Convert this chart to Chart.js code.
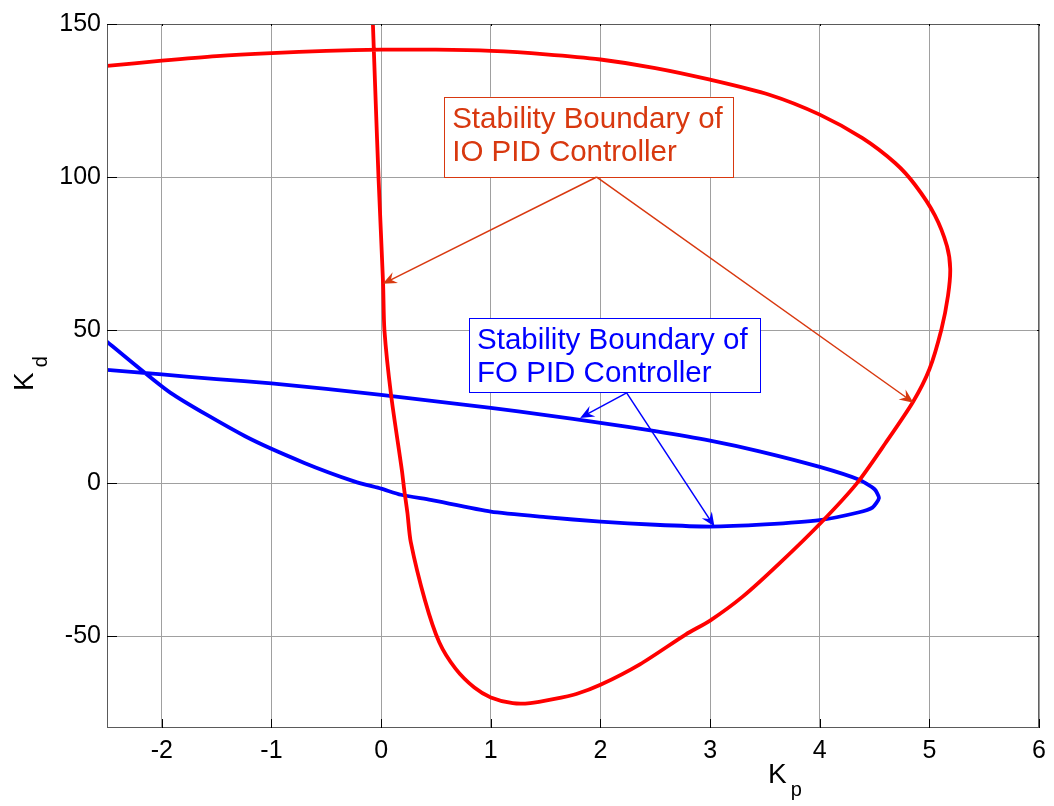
<!DOCTYPE html>
<html>
<head>
<meta charset="utf-8">
<script src="https://cdn.jsdelivr.net/npm/chart.js@4.4.0/dist/chart.umd.min.js"></script>
<style>
  html, body { margin: 0; padding: 0; background: #fff; }
  #wrap { width: 1054px; height: 806px; }
</style>
</head>
<body>
<div id="wrap"><canvas id="chart" width="1054" height="806"></canvas></div>
<script>
const FONT = '"Liberation Sans", Arial, sans-serif';

const xTicks = [-2, -1, 0, 1, 2, 3, 4, 5, 6];
const yTicks = [-50, 0, 50, 100, 150];

// IO PID stability boundary (red), in drawing order
const ioKp = [-2.5, -2, -1.5, -1, -0.5, 0, 0.5, 1, 1.5, 2, 2.5, 3, 3.54, 4, 4.39, 4.69, 4.87, 5.05, 5.16, 5.19,
  5.17, 5.11, 5.0, 4.85, 4.6, 4.34, 4.02, 3.63, 3.3, 3.0, 2.78, 2.36, 2.0, 1.78, 1.57, 1.36, 1.2, 1.0, 0.85, 0.68,
  0.53, 0.40, 0.27, 0.24, 0.21, 0.19, 0.09, 0.03, 0.018, -0.024, -0.05, -0.075];
const ioKd = [136.3, 138, 139.5, 140.5, 141.2, 141.6, 141.6, 141.2, 140.1, 138.4, 135.6, 131.8, 126.9, 120.4, 112.7, 104.5, 97.4, 87.5, 77.5, 70,
  61.3, 50.3, 37.2, 26.5, 13.1, 0, -12.6, -26.3, -37, -44.9, -49.4, -59.2, -65.9, -68.9, -70.6, -71.9, -71.9, -70, -66.8, -60.7,
  -52, -38.3, -19.2, -9.8, -2, 4, 29, 50, 65, 100, 125, 150];

// FO PID stability boundary (blue), in drawing order
const foKp = [-2.5, -2, -1.5, -1, -0.5, 0, 0.5, 1, 1.5, 2, 2.5, 3, 3.45, 4, 4.36, 4.5, 4.54, 4.48, 4.35, 4.0,
  3.5, 3.0, 2.5, 2, 1.5, 1, 0.45, 0.18, 0, -0.24, -0.7, -1.24, -1.92, -2.5];
const foKd = [37, 35.5, 34, 32.6, 30.8, 28.8, 26.7, 24.6, 22.2, 19.7, 17, 13.9, 10.4, 5.3, 1.1, -2, -4.9, -8, -9.6, -12.1,
  -13.5, -14.2, -13.6, -12.6, -11.1, -9.3, -5.5, -3.8, -1.8, 0.5, 6.6, 15.3, 29.5, 46.2];

const toPoints = (xs, ys) => xs.map((v, i) => ({ x: v, y: ys[i] }));

// text boxes with arrows, in data units
const notes = [
  { lines: ['Stability Boundary of', 'IO PID Controller'], color: '#d8380f',
    box: [0.575, 126.2, 3.207, 100], from: [1.966, 100], to: [[0.015, 65.1], [4.855, 26.3]] },
  { lines: ['Stability Boundary of', 'FO PID Controller'], color: '#0000ff',
    box: [0.802, 53.8, 3.455, 29.5], from: [2.239, 29.5], to: [[1.815, 21.3], [3.04, -14.2]] }
];

function arrow(ctx, x0, y0, x1, y1) {
  const ang = Math.atan2(y1 - y0, x1 - x0);
  const L = 14, W = 6;
  ctx.beginPath();
  ctx.moveTo(x0, y0);
  ctx.lineTo(x1 - Math.cos(ang) * L * 0.6, y1 - Math.sin(ang) * L * 0.6);
  ctx.stroke();
  ctx.save();
  ctx.translate(x1, y1);
  ctx.rotate(ang);
  ctx.beginPath();
  ctx.moveTo(0, 0);
  ctx.lineTo(-L, W);
  ctx.lineTo(-L * 0.65, 0);
  ctx.lineTo(-L, -W);
  ctx.closePath();
  ctx.fill();
  ctx.restore();
}

const decor = {
  id: 'decor',
  afterDatasetsDraw(chart) {
    const { ctx, chartArea: a, scales: { x, y } } = chart;
    ctx.save();

    // axes box
    ctx.strokeStyle = '#5a5a5a';
    ctx.lineWidth = 1;
    ctx.strokeRect(a.left + 0.5, a.top + 0.5, a.right - a.left - 1, a.bottom - a.top - 1);

    // inward tick marks
    ctx.strokeStyle = '#000';
    ctx.beginPath();
    xTicks.forEach(v => {
      const px = Math.round(x.getPixelForValue(v)) + 0.5;
      ctx.moveTo(px, a.bottom); ctx.lineTo(px, a.bottom - 9);
      ctx.moveTo(px, a.top); ctx.lineTo(px, a.top + 2);
    });
    yTicks.forEach(v => {
      const py = Math.round(y.getPixelForValue(v)) + 0.5;
      ctx.moveTo(a.left, py); ctx.lineTo(a.left + 10, py);
      ctx.moveTo(a.right, py); ctx.lineTo(a.right - 2, py);
    });
    ctx.stroke();

    // annotations
    notes.forEach(n => {
      const l = x.getPixelForValue(n.box[0]), t = y.getPixelForValue(n.box[1]);
      const r = x.getPixelForValue(n.box[2]), b = y.getPixelForValue(n.box[3]);
      ctx.fillStyle = '#fff';
      ctx.fillRect(l, t, r - l, b - t);
      ctx.strokeStyle = n.color;
      ctx.fillStyle = n.color;
      ctx.lineWidth = 1;
      ctx.strokeRect(Math.round(l) + 0.5, Math.round(t) + 0.5, Math.round(r - l), Math.round(b - t));
      ctx.font = '29.5px ' + FONT;
      ctx.textBaseline = 'alphabetic';
      ctx.textAlign = 'left';
      ctx.fillText(n.lines[0], l + 8, t + 31);
      ctx.fillText(n.lines[1], l + 8, t + 64);
      ctx.lineWidth = 1.5;
      const fx = x.getPixelForValue(n.from[0]), fy = y.getPixelForValue(n.from[1]);
      n.to.forEach(p => arrow(ctx, fx, fy, x.getPixelForValue(p[0]), y.getPixelForValue(p[1])));
    });

    // axis titles with subscripts
    ctx.fillStyle = '#000';
    ctx.textAlign = 'left';
    ctx.textBaseline = 'alphabetic';
    ctx.font = '28px ' + FONT;
    const kw = ctx.measureText('K').width;
    ctx.fillText('K', 768, 783);
    ctx.font = '20px ' + FONT;
    ctx.fillText('p', 768 + kw + 4, 796);

    ctx.translate(33, 391);
    ctx.rotate(-Math.PI / 2);
    ctx.font = '28px ' + FONT;
    ctx.fillText('K', 0, 0);
    ctx.font = '20px ' + FONT;
    ctx.fillText('d', kw + 5, 14);
    ctx.restore();
  }
};

const tickFont = { family: FONT, size: 25 };

new Chart(document.getElementById('chart'), {
  type: 'scatter',
  data: {
    datasets: [
      { label: 'IO PID', data: toPoints(ioKp, ioKd), showLine: true, borderColor: '#ff0000',
        borderWidth: 3.8, pointRadius: 0, tension: 0.25, fill: false },
      { label: 'FO PID', data: toPoints(foKp, foKd), showLine: true, borderColor: '#0000ff',
        borderWidth: 3.8, pointRadius: 0, tension: 0.2, fill: false }
    ]
  },
  options: {
    responsive: false,
    animation: false,
    layout: { padding: { top: 24, right: 9, left: 0, bottom: 0 } },
    plugins: { legend: { display: false }, tooltip: { enabled: false } },
    scales: {
      x: {
        type: 'linear', min: -2.5, max: 6,
        afterBuildTicks: s => { s.ticks = xTicks.map(v => ({ value: v })); },
        afterFit: s => { s.height = 78; },
        grid: { color: '#a0a0a0', lineWidth: 1, drawTicks: false },
        border: { display: false },
        ticks: { color: '#000', font: tickFont, padding: 8, maxRotation: 0 }
      },
      y: {
        type: 'linear', min: -80, max: 150,
        afterBuildTicks: s => { s.ticks = yTicks.map(v => ({ value: v })); },
        afterFit: s => { s.width = 107; },
        grid: { color: '#a0a0a0', lineWidth: 1, drawTicks: false },
        border: { display: false },
        ticks: { color: '#000', font: tickFont, padding: 6 }
      }
    }
  },
  plugins: [decor]
});
</script>
</body>
</html>
